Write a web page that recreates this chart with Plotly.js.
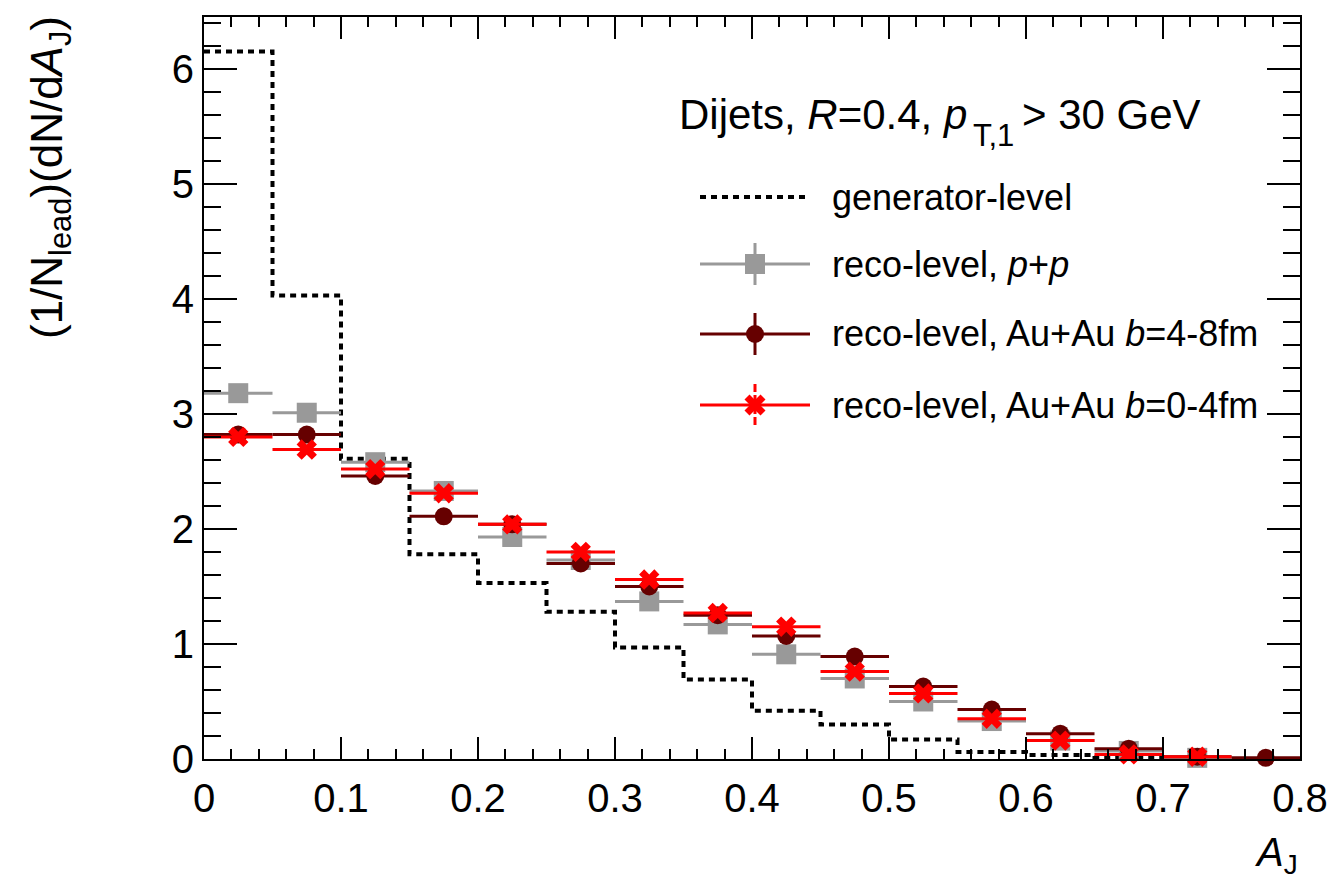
<!DOCTYPE html>
<html>
<head>
<meta charset="utf-8">
<script src="https://cdn.plot.ly/plotly-3.0.1.min.js"></script>
<style>html,body{margin:0;padding:0;background:#fff;}#chart{width:1341px;height:885px;}</style>
</head>
<body>
<div id="chart"></div>
<script>
// ---- data ----
var binEdges = [0,0.05,0.1,0.15,0.2,0.25,0.3,0.35,0.4,0.45,0.5,0.55,0.6,0.65,0.7,0.75,0.8];
var binCenters = [0.025,0.075,0.125,0.175,0.225,0.275,0.325,0.375,0.425,0.475,0.525,0.575,0.625,0.675,0.725,0.775];
var genLevel = [6.15,4.03,2.61,1.78,1.53,1.28,0.97,0.69,0.42,0.30,0.17,0.06,0.035,0.015,0.005,0.0];
var recoPP = [3.18,3.01,2.58,2.33,1.93,1.73,1.37,1.17,0.91,0.70,0.50,0.33,0.16,0.07,0.01,null];
var recoAuAu48 = [2.82,2.82,2.46,2.11,2.04,1.70,1.50,1.25,1.07,0.89,0.63,0.43,0.22,0.09,0.02,0.01];
var recoAuAu04 = [2.80,2.69,2.52,2.31,2.04,1.80,1.56,1.27,1.15,0.76,0.57,0.35,0.16,0.04,0.02,null];
var halfBin = 0.025;
var legendLabels = ["generator-level", "reco-level, <i>p</i>+<i>p</i>", "reco-level, Au+Au <i>b</i>=4-8fm", "reco-level, Au+Au <i>b</i>=0-4fm"];
var headerMain = "Dijets, <i>R</i>=0.4, <i>p</i>";
var headerSub = "T,1";
var headerTail = "> 30 GeV";

var FONT = "Liberation Sans, Arial, Helvetica, sans-serif";
var GRAY = "#999999", DARK = "#660000", RED = "#ff0000";

var W = 1341, H = 885, L = 204, R = 41, T = 17, B = 126;
var pw = W - L - R, ph = H - T - B;
function px(x){ return (x - L) / pw; }
function py(y){ return (H - B - y) / ph; }

function pointTrace(vals, color, symbol, size, name){
  return {
    x: binCenters, y: vals, type: "scatter", mode: "markers", name: name,
    showlegend: false, cliponaxis: false,
    marker: {color: color, symbol: symbol, size: size, line: {width: 0}},
    error_x: {type: "constant", value: halfBin, width: 0, thickness: 3, color: color}
  };
}

var genY = genLevel.concat([genLevel[genLevel.length - 1]]);
var traces = [
  {x: binEdges, y: genY, type: "scatter", mode: "lines", line: {shape: "hv", color: "#000", width: 4, dash: "6px,5px"}, showlegend: false},
  pointTrace(recoPP, GRAY, "square", 20, "pp"),
  pointTrace(recoAuAu48, DARK, "circle", 18, "b48"),
  pointTrace(recoAuAu04, RED, "x", 18, "b04")
];

// ---- legend (decoration) ----
var shapes = [];
var annotations = [];
var lx0 = 700, lx1 = 810, lmx = 755, ltx = 830;
var rows = [197, 264, 334, 405];
shapes.push({type: "line", xref: "paper", yref: "paper", x0: px(lx0), x1: px(lx1), y0: py(rows[0]), y1: py(rows[0]), line: {color: "#000", width: 4, dash: "6px,5px"}});
var cols = [GRAY, DARK, RED];
for (var i = 0; i < 3; i++) {
  var yy = rows[i + 1];
  shapes.push({type: "line", xref: "paper", yref: "paper", x0: px(lx0), x1: px(lx1), y0: py(yy), y1: py(yy), line: {color: cols[i], width: 3}});
  shapes.push({type: "line", xref: "paper", yref: "paper", x0: px(lmx), x1: px(lmx), y0: py(yy - 21), y1: py(yy + 21), line: {color: cols[i], width: 3, dash: i === 2 ? "8px,3px" : "solid"}});
}
shapes.push({type: "rect", xref: "paper", yref: "paper", x0: px(lmx - 10), x1: px(lmx + 10), y0: py(rows[1] - 10), y1: py(rows[1] + 10), fillcolor: GRAY, line: {width: 0}});
shapes.push({type: "circle", xref: "paper", yref: "paper", x0: px(lmx - 9), x1: px(lmx + 9), y0: py(rows[2] - 9), y1: py(rows[2] + 9), fillcolor: DARK, line: {width: 0}});
shapes.push({type: "line", xref: "paper", yref: "paper", x0: px(lmx - 8), x1: px(lmx + 8), y0: py(rows[3] - 8), y1: py(rows[3] + 8), line: {color: RED, width: 7}});
shapes.push({type: "line", xref: "paper", yref: "paper", x0: px(lmx - 8), x1: px(lmx + 8), y0: py(rows[3] + 8), y1: py(rows[3] - 8), line: {color: RED, width: 7}});
for (var j = 0; j < 4; j++) {
  annotations.push({xref: "paper", yref: "paper", x: px(ltx), y: py(rows[j]), xanchor: "left", yanchor: "middle", showarrow: false, text: legendLabels[j], font: {family: FONT, size: 36, color: "#000"}});
}
annotations.push({xref: "paper", yref: "paper", x: px(677), y: py(114), xanchor: "left", yanchor: "middle", showarrow: false, text: headerMain, font: {family: FONT, size: 42, color: "#000"}});
annotations.push({xref: "paper", yref: "paper", x: px(971), y: py(136), xanchor: "left", yanchor: "middle", showarrow: false, text: headerSub, font: {family: FONT, size: 31, color: "#000"}});
annotations.push({xref: "paper", yref: "paper", x: px(1020), y: py(114), xanchor: "left", yanchor: "middle", showarrow: false, text: headerTail, font: {family: FONT, size: 42, color: "#000"}});
// axis titles
annotations.push({xref: "paper", yref: "paper", x: px(50), y: py(178), xanchor: "center", yanchor: "middle", textangle: -90, showarrow: false, text: "(1/N<sub>lead</sub>)(dN/d<i>A</i><sub>J</sub>)", font: {family: FONT, size: 44, color: "#000"}});
annotations.push({xref: "paper", yref: "paper", x: px(1300), y: py(855), xanchor: "right", yanchor: "middle", showarrow: false, text: "<i>A</i><sub>J</sub>", font: {family: FONT, size: 40, color: "#000"}});

var axisCommon = {
  showgrid: false, zeroline: false, showline: true, linecolor: "#000", linewidth: 2,
  mirror: "ticks", ticks: "inside", tickcolor: "#000", tickwidth: 2,
  tickfont: {family: FONT, size: 40, color: "#000"}, fixedrange: true
};
var layout = {
  width: W, height: H, margin: {l: L, r: R, t: T, b: B},
  paper_bgcolor: "#fff", plot_bgcolor: "#fff", showlegend: false,
  xaxis: Object.assign({}, axisCommon, {range: [0, 0.8], dtick: 0.1, tick0: 0, ticklen: 22, ticklabelstandoff: 3,
    minor: {dtick: 0.02, ticklen: 10, tickwidth: 2, tickcolor: "#000", ticks: "inside"}}),
  yaxis: Object.assign({}, axisCommon, {range: [0, 6.45], dtick: 1, tick0: 0, ticklen: 33,
    minor: {dtick: 0.2, ticklen: 17, tickwidth: 2, tickcolor: "#000", ticks: "inside"}}),
  shapes: shapes, annotations: annotations
};
Plotly.newPlot("chart", traces, layout, {staticPlot: true, displayModeBar: false});
</script>
</body>
</html>
